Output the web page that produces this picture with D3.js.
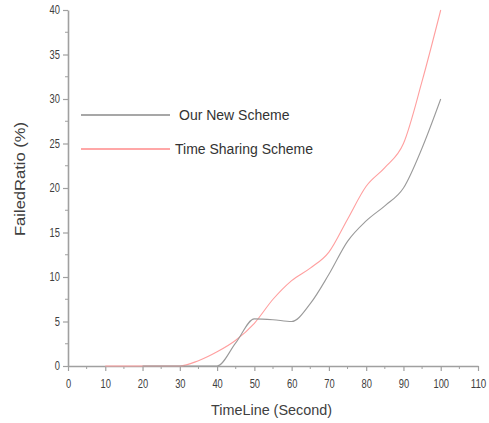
<!DOCTYPE html>
<html><head><meta charset="utf-8">
<script src="https://cdn.jsdelivr.net/npm/d3@7"></script>
<style>body{margin:0;background:#fff}svg{display:block}</style>
</head><body>
<script>
const timeline = [20, 25, 30, 35, 40, 45, 50, 55, 60, 65, 70, 75, 80, 85, 90, 95, 100];
const ourNewScheme = [0, 0, 0, 0, 0, 2.6, 5.3, 5.2, 5.0, 7.0, 10.3, 14.0, 16.3, 18.0, 20.0, 24.5, 30.0];
const timeRedX = [10, 20, 30, 35, 40, 45, 50, 55, 60, 65, 70, 75, 80, 85, 90, 95, 100];
const timeSharingScheme = [0, 0, 0, 0.6, 1.6, 2.9, 4.8, 7.5, 9.6, 11.0, 12.8, 16.5, 20.2, 22.3, 25.0, 32.0, 40.0];
const xTicks = [0, 10, 20, 30, 40, 50, 60, 70, 80, 90, 100, 110];
const yTicks = [0, 5, 10, 15, 20, 25, 30, 35, 40];
const seriesNames = ["Our New Scheme", "Time Sharing Scheme"];

const W = 489, H = 423;
const svg = d3.select("body").append("svg").attr("width", W).attr("height", H);
const x = d3.scaleLinear().domain([0, 110]).range([68, 478]);
const y = d3.scaleLinear().domain([0, 40]).range([366, 10]);
const font = "'Liberation Sans','Arial',sans-serif";
const axisCol = "#a0a0a0", textCol = "#404040";

// minor ticks
const gMinor = svg.append("g").attr("stroke", axisCol);
d3.range(5, 110, 10).forEach(v => gMinor.append("line").attr("x1", x(v)).attr("x2", x(v)).attr("y1", y(0)).attr("y2", y(0) + 3));
d3.range(2.5, 40, 5).forEach(v => gMinor.append("line").attr("y1", y(v)).attr("y2", y(v)).attr("x1", x(0)).attr("x2", x(0) - 3));

const xAxis = svg.append("g").attr("transform", `translate(0,${y(0)})`)
  .call(d3.axisBottom(x).tickValues(xTicks).tickSize(5).tickSizeOuter(0));
const yAxis = svg.append("g").attr("transform", `translate(${x(0)},0)`)
  .call(d3.axisLeft(y).tickValues(yTicks).tickSize(5).tickSizeOuter(0));
[xAxis, yAxis].forEach(g => {
  g.select(".domain").attr("stroke", axisCol).attr("stroke-width", 1.6);
  g.selectAll(".tick line").attr("stroke", axisCol).attr("stroke-width", 1.2);
  g.selectAll(".tick text").attr("fill", textCol).style("font-family", font).style("font-size", "12px");
});
const tl = d => (String(d).length) * 5.2;
xAxis.selectAll(".tick text").attr("y", 13)
  .attr("textLength", tl).attr("lengthAdjust", "spacingAndGlyphs");
yAxis.selectAll(".tick text").attr("x", -8)
  .attr("textLength", tl).attr("lengthAdjust", "spacingAndGlyphs");

svg.append("text").attr("x", 211).attr("y", 415)
  .attr("fill", textCol).style("font-family", font).style("font-size", "14px")
  .attr("textLength", 121).attr("lengthAdjust", "spacingAndGlyphs").text("TimeLine (Second)");
svg.append("text").attr("transform", "translate(25,236) rotate(-90)")
  .attr("fill", textCol).style("font-family", font).style("font-size", "14px")
  .attr("textLength", 114).attr("lengthAdjust", "spacingAndGlyphs").text("FailedRatio (%)");

const line = d3.line().x(d => x(d[0])).y(d => y(d[1])).curve(d3.curveMonotoneX);
const redData = timeRedX.map((t, i) => [t, timeSharingScheme[i]]);
const grayData = timeline.map((t, i) => [t, ourNewScheme[i]]);
const colors = ["#8a8a8a", "#ff8a8a"];
const curveColors = ["#9a9a9a", "#ff9f9f"];
svg.append("path").datum(redData).attr("d", line).attr("fill", "none").attr("stroke", curveColors[1]).attr("stroke-width", 1.1);
svg.append("path").datum(grayData).attr("d", line).attr("fill", "none").attr("stroke", curveColors[0]).attr("stroke-width", 1.1);

// legend
const ly = [115, 149];
seriesNames.forEach((n, i) => {
  svg.append("line").attr("x1", 81).attr("x2", 170).attr("y1", ly[i]).attr("y2", ly[i]).attr("stroke", colors[i]).attr("stroke-width", 1.4);
  svg.append("text").attr("x", i === 0 ? 179 : 175).attr("y", ly[i] + 5).attr("fill", "#333")
    .style("font-family", font).style("font-size", "14px").text(n);
});
</script>
</body></html>
